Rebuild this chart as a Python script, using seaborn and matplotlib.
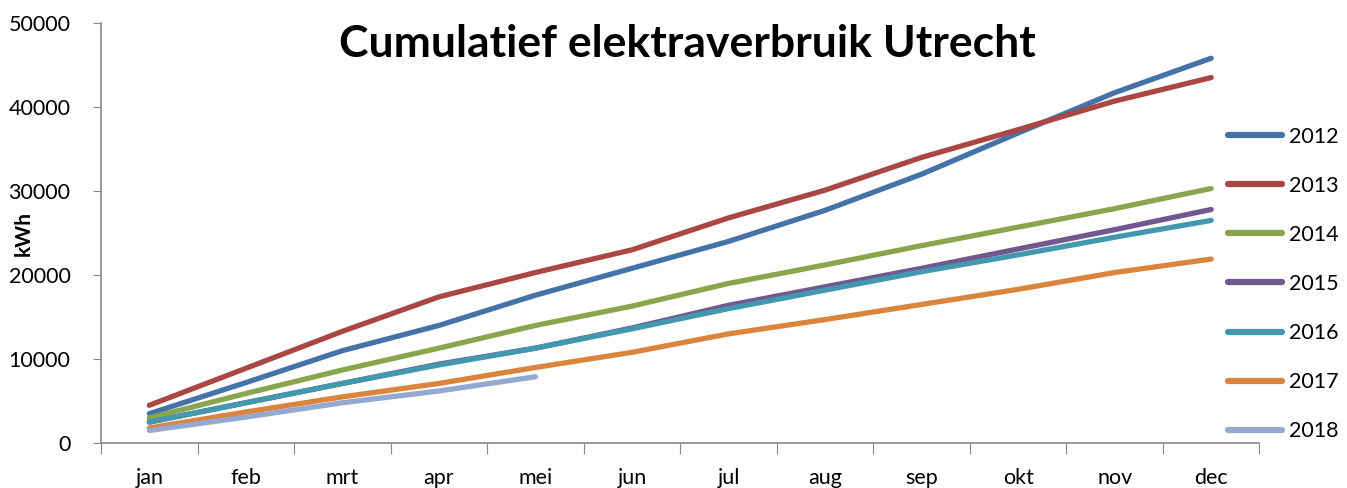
import matplotlib
matplotlib.use("Agg")
import matplotlib.pyplot as plt
import seaborn as sns
import pandas as pd

# === DATA ===
months = ["jan", "feb", "mrt", "apr", "mei", "jun", "jul", "aug", "sep", "okt", "nov", "dec"]
y2012 = [3500, 7200, 11000, 14000, 17600, 20800, 24000, 27700, 32000, 36900, 41700, 45800]
y2013 = [4500, 8900, 13300, 17400, 20300, 23000, 26800, 30100, 34000, 37300, 40700, 43500]
y2014 = [3000, 5900, 8700, 11300, 14000, 16300, 19000, 21200, 23500, 25700, 27900, 30300]
y2015 = [2500, 4800, 7100, 9400, 11300, 13700, 16400, 18600, 20800, 23100, 25400, 27800]
y2016 = [2500, 4800, 7100, 9300, 11300, 13600, 16000, 18200, 20400, 22400, 24500, 26500]
y2017 = [1800, 3700, 5500, 7100, 9000, 10800, 13000, 14700, 16500, 18300, 20300, 21900]
y2018 = [1500, 3100, 4800, 6200, 7900]

series = {"2012": y2012, "2013": y2013, "2014": y2014, "2015": y2015,
          "2016": y2016, "2017": y2017, "2018": y2018}
colors = ["#4572A7", "#AA4643", "#89A54E", "#71588F", "#4198AF", "#DB843D", "#93A9CF"]

rows = []
for year, vals in series.items():
    for i, v in enumerate(vals):
        rows.append({"maand": i, "kWh": v, "jaar": year})
df = pd.DataFrame(rows)

# === PLOT ===
sns.set_style("white")
plt.rcParams["font.family"] = ["Lato", "DejaVu Sans"]
plt.rcParams["text.color"] = "black"
plt.rcParams["xtick.labelcolor"] = "black"
plt.rcParams["ytick.labelcolor"] = "black"

fig = plt.figure(figsize=(13.47, 4.88), dpi=100)
ax = fig.add_axes([0.075, 0.092, 0.86, 0.861])

sns.lineplot(data=df, x="maand", y="kWh", hue="jaar", palette=colors,
             linewidth=3.8, solid_capstyle="round", ax=ax)

ax.set_xlim(-0.5, 11.5)
ax.set_ylim(0, 50000)
ax.set_yticks(range(0, 50001, 10000))
ax.tick_params(axis="y", labelsize=15.5, length=6, color="#888888", labelcolor="black",
               direction="out", left=True, pad=16)

# month tick marks between categories, labels centred
ax.set_xticks([i - 0.5 for i in range(13)])
ax.set_xticklabels([])
ax.tick_params(axis="x", which="major", length=8, color="#888888", direction="out", bottom=True)
ax.set_xticks(range(12), minor=True)
ax.set_xticklabels(months, minor=True, fontsize=15.5)
ax.tick_params(axis="x", which="minor", length=0, pad=18, labelcolor="black")

for side in ["top", "right"]:
    ax.spines[side].set_visible(False)
for side in ["left", "bottom"]:
    ax.spines[side].set_color("#888888")
    ax.spines[side].set_linewidth(1.2)

ax.set_xlabel("")
ax.set_ylabel("kWh", fontsize=15, fontweight="bold", color="black")
ax.yaxis.set_label_coords(-0.058, 0.5)

fig.text(0.51, 0.91, "Cumulatief elektraverbruik Utrecht", ha="center", va="center",
         fontsize=32, fontweight="bold", color="black")

leg = ax.legend(loc="center left", bbox_to_anchor=(0.912, 0.418), bbox_transform=fig.transFigure,
                frameon=False, fontsize=15.5, handlelength=2.5, labelspacing=1.35,
                handletextpad=0.3, borderaxespad=0, borderpad=0)
for h in leg.get_lines():
    h.set_linewidth(4.5)
    h.set_solid_capstyle("round")
for t in leg.get_texts():
    t.set_color("black")

fig.savefig("out.png", dpi=100)
